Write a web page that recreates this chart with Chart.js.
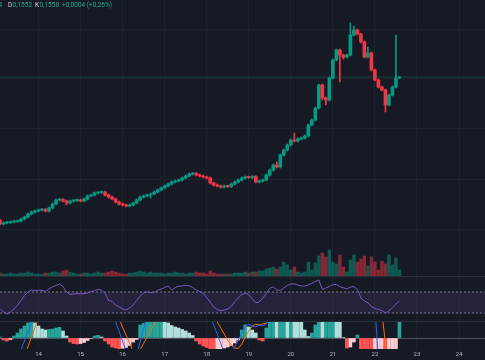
<!DOCTYPE html>
<html>
<head>
<meta charset="utf-8">
<title>Grafik</title>
<script src="https://cdn.jsdelivr.net/npm/chart.js@4.4.1/dist/chart.umd.min.js"></script>
<style>
  html, body { margin: 0; padding: 0; }
  body { width: 485px; height: 360px; overflow: hidden; background: #161a25; position: relative; font-family: Roboto, "Noto Sans", sans-serif; }
  canvas { position: absolute; left: 0; }
  .sep { position: absolute; left: 0; width: 485px; height: 1px; background: #2a2e39; }
  #legend { position: absolute; top: 0; left: 0; width: 120px; height: 11px; font-size: 6.5px; line-height: 11px; white-space: nowrap; }
  #legend span { position: absolute; top: 0; }
  .lbl { color: #d1d4dc; }
  .val { color: #22ab94; }
</style>
</head>
<body>
<canvas id="main" width="485" height="276" style="top:0"></canvas>
<div class="sep" style="top:276px"></div>
<canvas id="rsi" width="485" height="44" style="top:277px"></canvas>
<div class="sep" style="top:321px"></div>
<canvas id="macd" width="485" height="38" style="top:322px"></canvas>
<div id="legend">
  <span class="val" style="left:-1.5px">4</span>
  <span class="lbl" style="left:8px">D</span>
  <span class="val" style="left:12.5px">0,1552</span>
  <span class="lbl" style="left:35px">K</span>
  <span class="val" style="left:39.5px">0,1558</span>
  <span class="val" style="left:62px">+0,0004 (+0,26%)</span>
</div>
<script>
// ===============================
// DATA (2h candles)
// ===============================

const _ = null;

// time axis: day-of-month ticks
const dayTicks = [14, 15, 16, 17, 18, 19, 20, 21, 22, 23, 24];
const startTime = 13 + 2 / 24;   // first candle: 13th, 02:00
const stepTime = 2 / 24;         // 2 hours

const opens = [
  0.0986,0.0970,0.0974,0.0976,0.0978,0.0980,0.0982,0.0990,0.0998,0.1010,
  0.1018,0.1022,0.1026,0.1028,0.1022,0.1034,0.1050,0.1066,0.1068,0.1062,
  0.1054,0.1062,0.1064,0.1066,0.1062,0.1070,0.1082,0.1086,0.1094,0.1096,
  0.1098,0.1086,0.1078,0.1070,0.1058,0.1050,0.1046,0.1042,0.1046,0.1054,
  0.1066,0.1078,0.1082,0.1086,0.1090,0.1098,0.1106,0.1114,0.1122,0.1130,
  0.1138,0.1142,0.1146,0.1154,0.1162,0.1170,0.1172,0.1166,0.1162,0.1158,
  0.1154,0.1134,0.1126,0.1122,0.1118,0.1122,0.1120,0.1130,0.1138,0.1146,
  0.1154,0.1158,0.1156,0.1160,0.1138,0.1142,0.1146,0.1166,0.1186,0.1206,
  0.1198,0.1246,0.1266,0.1286,0.1306,0.1302,0.1310,0.1314,0.1322,0.1366,
  0.1386,0.1434,0.1526,0.1474,0.1466,0.1554,0.1626,0.1666,0.1646,0.1638,
  0.1646,0.1726,0.1746,0.1730,0.1698,0.1638,0.1654,0.1586,0.1546,0.1518,
  0.1506,0.1446,0.1486,0.1518,0.1554
];
const highs = [
  0.0990,0.0978,0.0980,0.0982,0.0984,0.0986,0.0994,0.1002,0.1014,0.1022,
  0.1026,0.1030,0.1032,0.1032,0.1038,0.1054,0.1070,0.1072,0.1072,0.1066,
  0.1066,0.1068,0.1070,0.1070,0.1074,0.1086,0.1090,0.1098,0.1100,0.1102,
  0.1102,0.1090,0.1082,0.1074,0.1062,0.1054,0.1050,0.1050,0.1058,0.1070,
  0.1082,0.1086,0.1090,0.1094,0.1102,0.1110,0.1118,0.1126,0.1134,0.1142,
  0.1146,0.1150,0.1158,0.1166,0.1174,0.1176,0.1176,0.1170,0.1166,0.1162,
  0.1158,0.1138,0.1130,0.1126,0.1126,0.1126,0.1134,0.1142,0.1150,0.1158,
  0.1162,0.1162,0.1164,0.1164,0.1146,0.1150,0.1170,0.1190,0.1210,0.1218,
  0.1250,0.1270,0.1290,0.1310,0.1334,0.1314,0.1318,0.1326,0.1370,0.1390,
  0.1438,0.1530,0.1530,0.1478,0.1558,0.1630,0.1670,0.1670,0.1650,0.1650,
  0.1774,0.1762,0.1750,0.1734,0.1702,0.1678,0.1658,0.1590,0.1550,0.1522,
  0.1510,0.1490,0.1522,0.1726,0.1560
];
const lows = [
  0.0966,0.0966,0.0970,0.0972,0.0974,0.0976,0.0978,0.0986,0.0994,0.1006,
  0.1014,0.1018,0.1022,0.1018,0.1018,0.1030,0.1046,0.1062,0.1058,0.1046,
  0.1050,0.1058,0.1060,0.1058,0.1058,0.1066,0.1078,0.1082,0.1090,0.1092,
  0.1082,0.1074,0.1066,0.1054,0.1046,0.1042,0.1038,0.1038,0.1042,0.1050,
  0.1062,0.1074,0.1078,0.1074,0.1086,0.1094,0.1102,0.1110,0.1118,0.1126,
  0.1134,0.1138,0.1142,0.1150,0.1158,0.1166,0.1162,0.1158,0.1154,0.1150,
  0.1130,0.1122,0.1118,0.1114,0.1114,0.1116,0.1116,0.1126,0.1134,0.1142,
  0.1150,0.1152,0.1152,0.1134,0.1134,0.1138,0.1142,0.1162,0.1182,0.1194,
  0.1194,0.1242,0.1262,0.1282,0.1298,0.1298,0.1306,0.1310,0.1318,0.1362,
  0.1382,0.1430,0.1466,0.1446,0.1462,0.1550,0.1622,0.1538,0.1630,0.1634,
  0.1642,0.1722,0.1726,0.1694,0.1634,0.1634,0.1582,0.1542,0.1514,0.1502,
  0.1418,0.1442,0.1482,0.1514,0.1552
];
const closes = [
  0.0970,0.0974,0.0976,0.0978,0.0980,0.0982,0.0990,0.0998,0.1010,0.1018,
  0.1022,0.1026,0.1028,0.1022,0.1034,0.1050,0.1066,0.1068,0.1062,0.1054,
  0.1062,0.1064,0.1066,0.1062,0.1070,0.1082,0.1086,0.1094,0.1096,0.1098,
  0.1086,0.1078,0.1070,0.1058,0.1050,0.1046,0.1042,0.1046,0.1054,0.1066,
  0.1078,0.1082,0.1086,0.1090,0.1098,0.1106,0.1114,0.1122,0.1130,0.1138,
  0.1142,0.1146,0.1154,0.1162,0.1170,0.1172,0.1166,0.1162,0.1158,0.1154,
  0.1134,0.1126,0.1122,0.1118,0.1122,0.1120,0.1130,0.1138,0.1146,0.1154,
  0.1158,0.1156,0.1160,0.1138,0.1142,0.1146,0.1166,0.1186,0.1206,0.1198,
  0.1246,0.1266,0.1286,0.1306,0.1302,0.1310,0.1314,0.1322,0.1366,0.1386,
  0.1434,0.1526,0.1474,0.1466,0.1554,0.1626,0.1666,0.1646,0.1638,0.1646,
  0.1726,0.1746,0.1730,0.1698,0.1638,0.1654,0.1586,0.1546,0.1518,0.1506,
  0.1446,0.1486,0.1518,0.1554,0.1558
];

// volume (arbitrary units)
const volumes = [
  3,2,2,3,2,2,3,3,4,3, 2,2,2,3,3,4,4,3,5,6, 4,3,2,2,3,3,2,3,4,3,
  3,4,5,4,3,2,2,3,3,4, 5,4,3,4,3,3,3,2,3,3, 4,3,3,2,3,3,4,3,3,2,
  5,3,2,2,2,2,2,3,3,3, 4,3,4,4,5,5,7,8,9,7, 9,14,11,6,9,4,3,4,14,6,
  13,20,23,19,26,14,12,21,9,4, 16,21,14,17,20,10,19,14,6,15, 12,21,11,18,6
];

// RSI (14)
const rsi = [
  38.6,31.9,28.1,31.9,37.6,45.2,53.8,63.3,70.0,73.8,
  72.9,73.2,73.2,71.0,76.1,79.5,82.4,85.2,80.1,70.4,
  65.2,66.2,67.1,66.2,67.0,68.1,70.4,72.9,74.8,73.8,
  67.1,54.2,51.9,45.2,41.4,38.0,35.7,39.5,45.2,53.8,
  62.4,68.1,70.0,69.1,69.1,73.2,75.7,78.6,81.4,73.8,
  78.6,80.9,81.4,82.9,81.8,78.6,73.8,71.0,67.5,59.5,
  51.0,41.4,36.7,34.4,35.7,37.6,42.4,51.5,58.6,65.2,
  67.5,65.2,56.7,49.6,51.0,58.6,67.1,77.1,79.5,73.8,
  72.9,77.6,82.4,85.2,85.6,83.3,81.4,81.4,83.3,86.6,
  90.0,92.9,74.8,77.6,80.9,83.9,84.3,80.1,78.0,75.7,
  79.5,80.1,74.8,58.6,52.9,49.6,42.4,38.6,36.7,34.8,
  30.0,33.8,40.5,47.1,52.9
];
const rsiBands = [70, 30];

// MACD, in units of 0.0001
const macdHist = [
  1,-2,-3,-1.5,2,5,9,12,15,16.5,
  15,12,9,8,8.5,9,10,10.7,7,2,
  -4,-5.5,-6,-5.5,-4.5,-2.5,-0.5,2,2.7,1,
  -3,-6,-9,-10,-10.7,-10.3,-9.5,-7.5,-4,-1.5,
  13,14.7,16,16.5,17,17.5,18,17,15,12.5,
  11,10,8.5,7,5,2.5,-3,-6,-8,-9.5,
  -11,-12,-11.5,-11,-10,-9,-7.5,-5,-2,8,
  13,11,8,5,-2,-3,10,16,20,19,
  22,24,23,26,25,20,16.5,8,1.5,5,
  13,20,19,22,26,29,28,24,0.5,-10,
  -9,-4,3,-11,-12,-13,-14,-13.5,-13,-12.5,
  -13,-12.5,-12,-11.5,17
];
const macdLine = [
  _,_,_,_,_,-20.6,-11.8,-2.9,6.0,14.8,
  23.7,_,_,_,_,_,_,_,_,_,
  _,_,_,_,_,_,_,_,_,_,
  _,_,26.3,16.4,6.6,-3.2,-13.1,-20,-24,-17.4,
  -3.9,9.6,23.1,_,_,_,_,_,_,_,
  _,_,_,_,_,_,_,_,_,_,
  22.5,13.1,3.8,-5.5,-14.9,-20,-15.5,-8.7,-2,4.8,
  11.5,14,12,11,13,12,14,20,_,_,
  _,_,_,_,_,_,_,_,_,_,
  _,_,_,_,_,_,_,_,_,_,
  _,_,_,_,_,_,_,30,-20,_,
  _,_,_,_,_
];
const signalLine = [
  _,_,_,_,_,_,_,-17.9,-8.5,1.0,
  10.4,19.9,_,_,_,_,_,_,_,_,
  _,_,_,_,_,_,_,_,_,_,
  _,_,_,27.0,19.0,10.9,2.9,-5.2,-13.2,-18.2,
  -11.8,-5.4,0.9,7.3,13.7,20,_,_,_,_,
  _,_,_,_,_,_,_,_,_,_,
  _,25,16,10,4,-2,-7,-10,-10.5,-6,
  1,7,12,14,13,14,15,18,_,_,
  _,_,_,_,_,_,_,_,_,_,
  _,_,_,_,_,_,_,_,_,_,
  _,_,_,_,_,_,_,_,_,25,
  -5,-30,_,_,_
];

// horizontal grid of the price pane
const priceGrid = [0.095, 0.115, 0.135, 0.155, 0.175];


// ===============================
// HELPERS
// ===============================

const X_MIN = 13.0844, X_MAX = 24.618;
const UP = '#089981', DOWN = '#f23645';
const GRID = '#1e222d';

const times = opens.map((o, i) => startTime + i * stepTime);
const isUp = closes.map((c, i) => c >= opens[i]);
const lastClose = closes[closes.length - 1];

const xy = (vals) => vals.map((v, i) => ({ x: times[i], y: v }));

function timeAxis(showLabels) {
  return {
    type: 'linear',
    min: X_MIN,
    max: X_MAX,
    offset: false,
    afterBuildTicks: (ax) => { ax.ticks = dayTicks.map(v => ({ value: v })); },
    afterFit: (ax) => { ax.height = showLabels ? 11 : 0; },
    grid: { color: GRID, drawTicks: false, offset: false },
    border: { display: false },
    ticks: {
      display: showLabels,
      autoSkip: false,
      maxRotation: 0,
      padding: 2,
      color: '#b2b5be',
      font: { family: 'Roboto', size: 6 },
      callback: (v) => String(v)
    }
  };
}

function hiddenY(min, max, gridTicks) {
  return {
    position: 'right',
    min: min,
    max: max,
    afterBuildTicks: (ax) => { ax.ticks = (gridTicks || []).map(v => ({ value: v })); },
    afterFit: (ax) => { ax.width = 0; },
    grid: { display: !!gridTicks, color: GRID, drawTicks: false },
    border: { display: false },
    ticks: { display: false }
  };
}

const common = {
  responsive: false,
  animation: false,
  events: [],
  devicePixelRatio: 1,
  layout: { padding: 0 },
  plugins: { legend: { display: false }, tooltip: { enabled: false } }
};


// ===============================
// PRICE + VOLUME
// ===============================

new Chart(document.getElementById('main'), {
  data: {
    datasets: [
      {
        type: 'line',
        data: [{ x: X_MIN, y: lastClose }, { x: X_MAX, y: lastClose }],
        borderColor: 'rgba(8,153,129,0.3)',
        borderWidth: 1,
        pointRadius: 0,
        order: 0
      },
      {
        type: 'bar',
        data: times.map((t, i) => ({ x: t, y: [opens[i], closes[i]] })),
        backgroundColor: isUp.map(u => u ? UP : DOWN),
        barThickness: 3,
        minBarLength: 1,
        grouped: false,
        order: 1
      },
      {
        type: 'bar',
        data: times.map((t, i) => ({ x: t, y: [lows[i], highs[i]] })),
        backgroundColor: isUp.map(u => u ? UP : DOWN),
        barThickness: 1,
        grouped: false,
        order: 2
      },
      {
        type: 'bar',
        yAxisID: 'yv',
        data: xy(volumes),
        backgroundColor: isUp.map(u => u ? 'rgba(8,153,129,0.5)' : 'rgba(242,54,69,0.5)'),
        barThickness: 2.8,
        grouped: false,
        order: 3
      }
    ]
  },
  options: {
    ...common,
    scales: {
      x: timeAxis(false),
      y: hiddenY(0.0762, 0.1866, priceGrid),
      yv: { display: false, min: 0, max: 276 }
    }
  }
});


// ===============================
// RSI
// ===============================

new Chart(document.getElementById('rsi'), {
  type: 'line',
  data: {
    datasets: [
      {
        data: [{ x: X_MIN, y: rsiBands[0] }, { x: X_MAX, y: rsiBands[0] }],
        borderColor: '#787b86',
        borderWidth: 1,
        borderDash: [2, 2],
        pointRadius: 0,
        fill: '+1',
        backgroundColor: 'rgba(126,87,194,0.15)',
        order: 1
      },
      {
        data: [{ x: X_MIN, y: rsiBands[1] }, { x: X_MAX, y: rsiBands[1] }],
        borderColor: '#787b86',
        borderWidth: 1,
        borderDash: [2, 2],
        pointRadius: 0,
        fill: false,
        order: 1
      },
      {
        data: xy(rsi),
        borderColor: '#7e57c2',
        borderWidth: 1,
        pointRadius: 0,
        fill: false,
        order: 0
      }
    ]
  },
  options: {
    ...common,
    scales: {
      x: timeAxis(false),
      y: hiddenY(14.76, 98.57, null)
    }
  }
});


// ===============================
// MACD
// ===============================

const histColors = macdHist.map((v, i) => {
  const prev = i > 0 ? macdHist[i - 1] : v;
  if (v >= 0) return v >= prev ? '#26a69a' : '#b2dfdb';
  return v <= prev ? '#ff5252' : '#ffcdd2';
});

new Chart(document.getElementById('macd'), {
  data: {
    datasets: [
      {
        type: 'line',
        data: xy(macdLine),
        borderColor: '#2962ff',
        borderWidth: 1,
        pointRadius: 0,
        spanGaps: false,
        clip: 0,
        order: 0
      },
      {
        type: 'line',
        data: xy(signalLine),
        borderColor: '#ff6d00',
        borderWidth: 1,
        pointRadius: 0,
        spanGaps: false,
        clip: 0,
        order: 1
      },
      {
        type: 'bar',
        data: xy(macdHist),
        backgroundColor: histColors,
        barThickness: 3,
        grouped: false,
        clip: 0,
        order: 2
      }
    ]
  },
  options: {
    ...common,
    scales: {
      x: timeAxis(true),
      y: {
        ...hiddenY(-11, 16, [0]),
        grid: { color: 'rgba(120,123,134,0.6)', drawTicks: false }
      }
    }
  }
});
</script>
</body>
</html>
